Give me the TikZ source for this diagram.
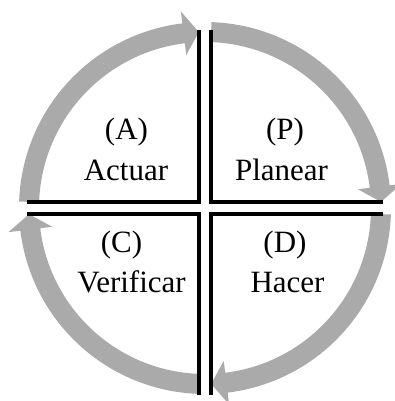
\documentclass[tikz,border=0pt]{standalone}
\usepackage{fontspec}
\setmainfont{Liberation Serif}
\usetikzlibrary{calc}
\definecolor{arcgray}{HTML}{AAAAAA}
\tikzset{
  lbl/.style={anchor=base,inner sep=0pt,font=\fontsize{31}{37}\selectfont},
  crossline/.style={line width=4pt,black,line join=miter},
}
\begin{document}
\begin{tikzpicture}[x=1pt,y=1pt]
\useasboundingbox (0,0) rectangle (394,401);
\coordinate (C) at (205,193);
% arcs with arrow heads (clockwise)
\foreach \s in {178,88,-2,-92}{
  \pgfmathsetmacro{\e}{\s-81}
  \pgfmathsetmacro{\t}{\s-86}
  \fill[arcgray] ($(C)+(\s:186)$) arc[start angle=\s,end angle=\e,radius=186]
    -- ($(C)+(\e:198)$) -- ($(C)+(\t:176)$) -- ($(C)+(\e:154)$)
    -- ($(C)+(\e:166)$) arc[start angle=\e,end angle=\s,radius=166] -- cycle;
}
% four corner lines
\coordinate (tlc) at (199,199); \coordinate (trc) at (211,199);
\coordinate (blc) at (199,186.5); \coordinate (brc) at (211,186.5);
\coordinate (tlt) at (199,371); \coordinate (tll) at (27,199);
\coordinate (trt) at (211,371); \coordinate (trr) at (383,199);
\coordinate (blb) at (199,6); \coordinate (bll) at (27,186.5);
\coordinate (brb) at (211,6); \coordinate (brr) at (383,186.5);
\draw[crossline] (tlt) -- (tlc) -- (tll);
\draw[crossline] (trt) -- (trc) -- (trr);
\draw[crossline] (blb) -- (blc) -- (bll);
\draw[crossline] (brb) -- (brc) -- (brr);
% labels
\node[lbl] (a1) at (126.5,261) {(A)};
\node[lbl] (a2) at (126,220) {Actuar};
\node[lbl] (p1) at (285,261) {(P)};
\node[lbl] (p2) at (281.5,220) {Planear};
\node[lbl] (c1) at (121.5,148) {(C)};
\node[lbl] (c2) at (131.5,108) {Verificar};
\node[lbl] (d1) at (285,148) {(D)};
\node[lbl] (d2) at (287.5,108) {Hacer};
\end{tikzpicture}
\end{document}
